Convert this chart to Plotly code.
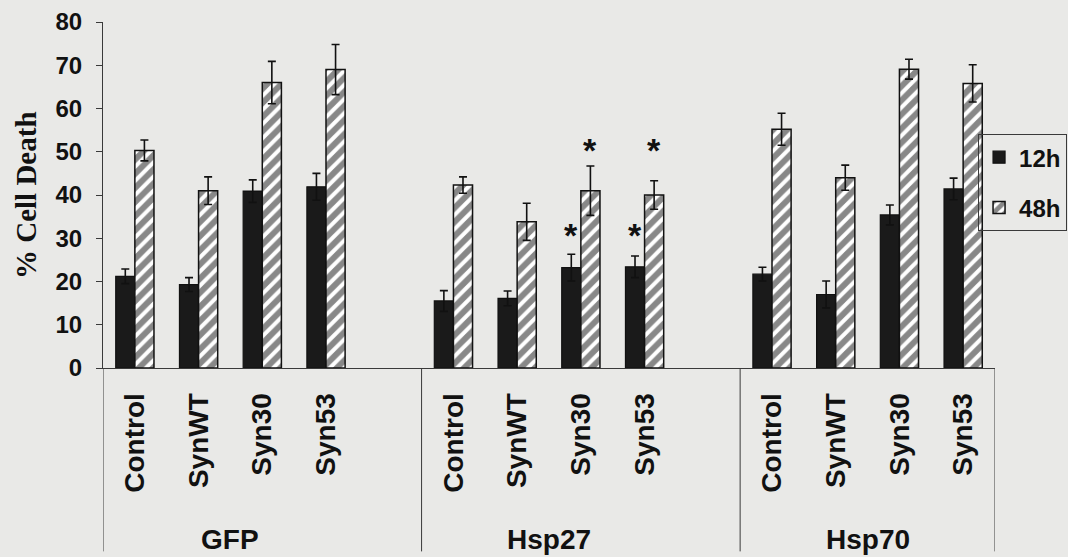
import plotly.graph_objects as go

# ---- data ----
groups = ["GFP", "Hsp27", "Hsp70"]
categories = ["Control", "SynWT", "Syn30", "Syn53"]

death_12h = [21.2, 19.3, 40.9, 41.9,
             15.5, 16.1, 23.2, 23.4,
             21.7, 17.0, 35.4, 41.4]
err_12h = [1.7, 1.6, 2.6, 3.1,
           2.4, 1.7, 3.1, 2.5,
           1.6, 3.1, 2.3, 2.5]
death_48h = [50.3, 41.0, 66.0, 69.0,
             42.3, 33.8, 41.0, 40.0,
             55.2, 44.0, 69.1, 65.8]
err_48h = [2.4, 3.2, 4.9, 5.8,
           1.9, 4.3, 5.7, 3.3,
           3.7, 2.9, 2.3, 4.3]

# significance stars: (group, category, series, y value)
stars = [("Hsp27", "Syn30", "12h", 31.5), ("Hsp27", "Syn30", "48h", 51.2),
         ("Hsp27", "Syn53", "12h", 31.5), ("Hsp27", "Syn53", "48h", 51.2)]

y_ticks = [0, 10, 20, 30, 40, 50, 60, 70, 80]

# ---- positions: each group occupies 5 slots (4 categories + one gap) ----
slot = {}
xs = []
labels = []
for gi, g in enumerate(groups):
    for ci, c in enumerate(categories):
        pos = gi * 5 + ci
        slot[(g, c)] = pos
        xs.append(pos)
        labels.append(c)

BG = "#e9e9e7"
AX = "#3a3a3a"
BOLD = "Liberation Sans, Arial, sans-serif"

fig = go.Figure()
fig.add_trace(go.Bar(
    x=xs, y=death_12h, name="<b>12h</b>", legendgroup="a",
    marker=dict(color="#1a1a1a", line=dict(color="#111", width=1.2)),
    error_y=dict(type="data", array=err_12h, color="#111", thickness=1.6, width=4),
))
fig.add_trace(go.Bar(
    x=xs, y=death_48h, name="<b>48h</b>", legendgroup="b",
    marker=dict(color="white", line=dict(color="#111", width=1.5),
                pattern=dict(shape="/", fgcolor="#111", bgcolor="white",
                             size=10, solidity=0.6)),
    error_y=dict(type="data", array=err_48h, color="#111", thickness=1.6, width=4),
))

for g, c, s, yv in stars:
    off = -0.15 if s == "12h" else 0.15
    fig.add_annotation(x=slot[(g, c)] + off, y=yv, xref="x", yref="y",
                       text="<b>*</b>", showarrow=False, yshift=-3,
                       font=dict(family=BOLD, size=34, color="#111"))

# group dividers below the axis
for b in [-0.5, 4.5, 9.5, 13.5]:
    fig.add_shape(type="line", xref="x", yref="paper", x0=b, x1=b,
                  y0=0, y1=-0.53, line=dict(color=AX, width=1))

for gi, g in enumerate(groups):
    fig.add_annotation(x=gi * 5 + 1.5, y=-0.497, xref="x", yref="paper",
                       text="<b>%s</b>" % g, showarrow=False,
                       yanchor="middle", xanchor="center",
                       font=dict(family=BOLD, size=28, color="#111"))

fig.add_annotation(x=-0.0863, y=0.5, xref="paper", yref="paper",
                   text="<b>% Cell Death</b>", textangle=-90, showarrow=False,
                   xanchor="center", yanchor="middle",
                   font=dict(family="Liberation Serif, Times New Roman, serif",
                             size=29, color="#111"))

fig.update_layout(
    width=1068, height=557,
    paper_bgcolor=BG, plot_bgcolor=BG,
    margin=dict(l=103, r=73, t=22, b=189, autoexpand=False),
    barmode="group", bargap=0.4, bargroupgap=0,
    showlegend=True,
    legend=dict(x=0.981, y=0.676, xanchor="left", yanchor="top",
                bgcolor="rgba(0,0,0,0)", bordercolor=AX, borderwidth=1,
                font=dict(family=BOLD, size=24, color="#111"),
                tracegroupgap=16, itemwidth=30),
    xaxis=dict(range=[-0.5, 13.5], tickmode="array", tickvals=xs,
               ticktext=["<b>%s</b>" % l for l in labels], tickangle=-90,
               tickfont=dict(family=BOLD, size=28, color="#111"),
               ticks="", showgrid=False, zeroline=False,
               showline=True, linecolor=AX, linewidth=1,
               ticklabelstandoff=13),
    yaxis=dict(range=[0, 80], tickmode="array", tickvals=y_ticks,
               ticktext=["<b>%d</b>" % v for v in y_ticks],
               tickfont=dict(family=BOLD, size=24, color="#111"),
               ticks="outside", ticklen=6, tickcolor=AX,
               showgrid=False, zeroline=False,
               showline=True, linecolor=AX, linewidth=1,
               ticklabelstandoff=9),
)

fig.write_html("out.html", config={"displayModeBar": False},
               post_script="document.body.style.margin='0px';"
                           "document.body.style.background='%s';" % BG)
